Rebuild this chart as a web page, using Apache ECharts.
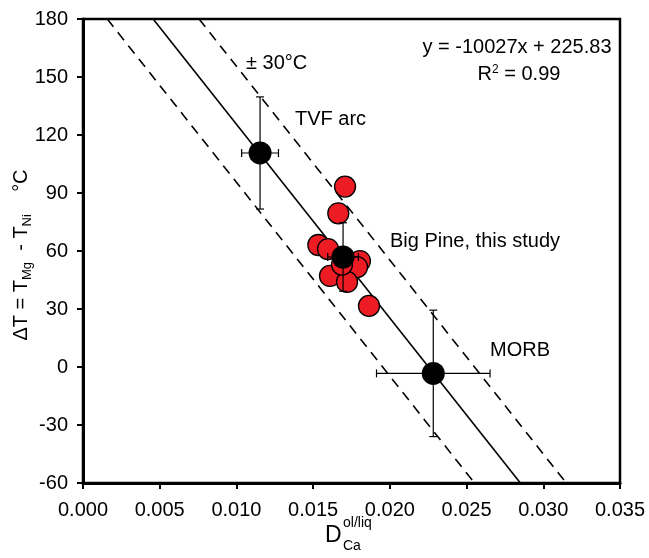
<!DOCTYPE html>
<html>
<head>
<meta charset="utf-8">
<script src="https://cdn.jsdelivr.net/npm/echarts@6/dist/echarts.min.js"></script>
<style>html,body{margin:0;padding:0;background:#fff}#c{width:649px;height:558px}</style>
</head>
<body>
<div id="c"></div>
<script>
// ---- data ----
const xTicks = [0, 0.005, 0.010, 0.015, 0.020, 0.025, 0.030, 0.035];
const yTicks = [-60, -30, 0, 30, 60, 90, 120, 150, 180];
const fitSlope = -10027;
const fitIntercept = 225.83;
const bandOffset = 30;
const bigPineX = [0.01708, 0.01664, 0.01534, 0.01597, 0.01805, 0.01786, 0.01610, 0.01721, 0.01864, 0.01688];
const bigPineY = [93.3, 79.5, 63.1, 61.0, 54.8, 51.7, 47.1, 44.0, 31.6, 53.0];
const refNames = ['TVF arc', 'Big Pine', 'MORB'];
const refX = [0.01154, 0.01695, 0.02283];
const refY = [110.7, 56.9, -3.3];
const refXErr = [0.0012, 0.0010, 0.0037];
const refYErr = [29.0, 17.7, 32.7];

const FONT = 'Liberation Sans, Arial, sans-serif';
const xMin = xTicks[0], xMax = xTicks[xTicks.length - 1];
const yMin = yTicks[0], yMax = yTicks[yTicks.length - 1];

function fitLine(offset) {
  const b = fitIntercept + offset;
  return [[(yMax - b) / fitSlope, yMax], [(yMin - b) / fitSlope, yMin]];
}

const chart = echarts.init(document.getElementById('c'), null, {renderer: 'canvas'});
const refData = refX.map((x, i) => [x, refY[i], refXErr[i], refYErr[i]]);

chart.setOption({
  animation: false,
  grid: {left: 83, right: 29, top: 19, bottom: 75, containLabel: false, outerBoundsMode: 'none',
         show: true, borderColor: '#000', borderWidth: 2.5},
  xAxis: {
    type: 'value', min: xMin, max: xMax, interval: 0.005,
    axisLine: {show: true, onZero: false, lineStyle: {color: '#000', width: 3}},
    axisTick: {show: true, inside: false, length: 6, lineStyle: {color: '#000', width: 2}},
    splitLine: {show: false},
    axisLabel: {color: '#000', fontSize: 20, fontFamily: FONT, margin: 17, formatter: v => v.toFixed(3)}
  },
  yAxis: {
    type: 'value', min: yMin, max: yMax, interval: 30,
    axisLine: {show: true, onZero: false, lineStyle: {color: '#000', width: 3}},
    axisTick: {show: true, inside: false, length: 6, lineStyle: {color: '#000', width: 2}},
    splitLine: {show: false},
    axisLabel: {color: '#000', fontSize: 20, fontFamily: FONT, margin: 15}
  },
  series: [
    {type: 'line', data: fitLine(0), symbol: 'none', silent: true,
     lineStyle: {color: '#000', width: 1.6}, z: 1},
    {type: 'line', data: fitLine(bandOffset), symbol: 'none', silent: true,
     lineStyle: {color: '#000', width: 1.6, type: [10, 7]}, z: 1},
    {type: 'line', data: fitLine(-bandOffset), symbol: 'none', silent: true,
     lineStyle: {color: '#000', width: 1.6, type: [10, 7]}, z: 1},
    {type: 'scatter', data: bigPineX.map((x, i) => [x, bigPineY[i]]), symbolSize: 21,
     itemStyle: {color: '#ed1c24', borderColor: '#000', borderWidth: 1.3, opacity: 1}, z: 2},
    {type: 'custom', data: refData, z: 3, silent: true,
     renderItem: function (params, api) {
       const x = api.value(0), y = api.value(1), ex = api.value(2), ey = api.value(3);
       const l = api.coord([x - ex, y]), r = api.coord([x + ex, y]);
       const t = api.coord([x, y + ey]), b = api.coord([x, y - ey]);
       const cap = 4;
       const st = {stroke: '#000', lineWidth: 1.2};
       const ln = (x1, y1, x2, y2) => ({type: 'line', shape: {x1, y1, x2, y2}, style: st});
       return {type: 'group', children: [
         ln(l[0], l[1], r[0], r[1]), ln(l[0], l[1] - cap, l[0], l[1] + cap), ln(r[0], r[1] - cap, r[0], r[1] + cap),
         ln(t[0], t[1], b[0], b[1]), ln(t[0] - cap, t[1], t[0] + cap, t[1]), ln(b[0] - cap, b[1], b[0] + cap, b[1])
       ]};
     },
     encode: {x: 0, y: 1}},
    {type: 'scatter', data: refData.map(d => [d[0], d[1]]), symbolSize: 23,
     itemStyle: {color: '#000', opacity: 1}, z: 4}
  ],
  graphic: [
    {type: 'text', x: 21, y: 255, rotation: Math.PI / 2,
     style: {
       text: '{m|ΔT = T}{s|Mg}{m|  - T}{s|Ni}{m|    °C}',
       rich: {
         m: {fontSize: 20, fontFamily: FONT, fill: '#000', lineHeight: 26, verticalAlign: 'middle'},
         s: {fontSize: 13, fontFamily: FONT, fill: '#000', lineHeight: 12, verticalAlign: 'bottom'}
       },
       textAlign: 'center', textVerticalAlign: 'middle'
     }},
    {type: 'text', x: 246, y: 63, style: {text: '± 30°C', font: '20px ' + FONT, fill: '#000', textAlign: 'left', textVerticalAlign: 'middle'}},
    {type: 'text', x: 295, y: 119, style: {text: 'TVF arc', font: '20px ' + FONT, fill: '#000', textAlign: 'left', textVerticalAlign: 'middle'}},
    {type: 'text', x: 390, y: 241, style: {text: 'Big Pine, this study', font: '20px ' + FONT, fill: '#000', textAlign: 'left', textVerticalAlign: 'middle'}},
    {type: 'text', x: 490, y: 350, style: {text: 'MORB', font: '20px ' + FONT, fill: '#000', textAlign: 'left', textVerticalAlign: 'middle'}},
    {type: 'text', x: 517, y: 47, style: {text: 'y = -10027x + 225.83', font: '20px ' + FONT, fill: '#000', textAlign: 'center', textVerticalAlign: 'middle'}},
    {type: 'text', x: 519, y: 74, style: {rich: {n: {font: '20px ' + FONT, fill: '#000'}, p: {font: '12px ' + FONT, fill: '#000', verticalAlign: 'top', lineHeight: 20}}, text: '{n|R}{p|2}{n| = 0.99}', textAlign: 'center', textVerticalAlign: 'middle'}},
    {type: 'text', x: 325, y: 536, style: {text: 'D', font: '23px ' + FONT, fill: '#000', textAlign: 'left', textVerticalAlign: 'middle'}},
    {type: 'text', x: 343, y: 523, style: {text: 'ol/liq', font: '14px ' + FONT, fill: '#000', textAlign: 'left', textVerticalAlign: 'middle'}},
    {type: 'text', x: 343, y: 546, style: {text: 'Ca', font: '14px ' + FONT, fill: '#000', textAlign: 'left', textVerticalAlign: 'middle'}}
  ]
});
</script>
</body>
</html>
